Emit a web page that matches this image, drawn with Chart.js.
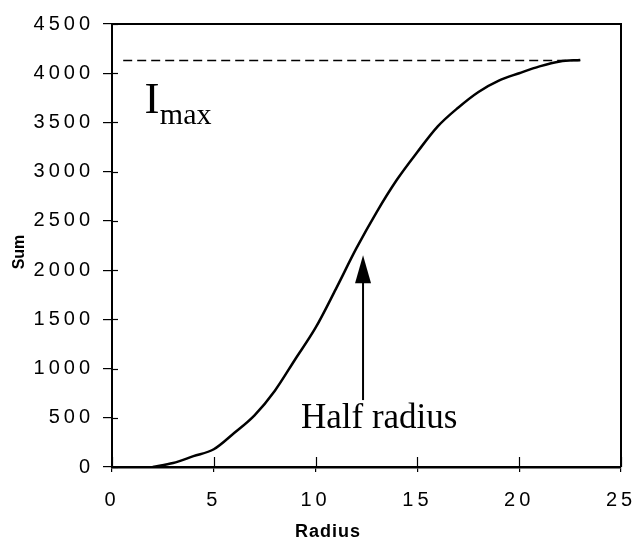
<!DOCTYPE html>
<html>
<head>
<meta charset="utf-8">
<script src="https://cdn.jsdelivr.net/npm/chart.js@4.4.1/dist/chart.umd.min.js"></script>
<style>
  html, body { margin: 0; padding: 0; background: #fff; }
  #wrap { width: 637px; height: 540px; position: relative; }
</style>
</head>
<body>
<div id="wrap"><canvas id="chart"></canvas></div>
<script>
// radius (pixels) and cumulative intensity sum
const radius = [2, 3, 4, 5, 6, 7, 8, 9, 10, 11, 12, 13, 14, 15, 16, 17, 18, 19, 20, 21, 22, 23];
const sums = [0, 40, 110, 180, 345, 525, 775, 1095, 1415, 1810, 2220, 2590, 2920, 3200, 3460, 3650, 3810, 3925, 4000, 4070, 4120, 4135];

// plateau (I max) line
const imaxLevel = 4130;
const imaxFrom = 0.55;
const imaxTo = 23.1;

// half radius arrow
const halfRadiusX = 12.33;
const arrowFrom = 680;
const arrowTo = 2150;

const xTicks = [0, 5, 10, 15, 20, 25];
const yTicks = [0, 500, 1000, 1500, 2000, 2500, 3000, 3500, 4000, 4500];

const curve = radius.map((r, i) => ({ x: r, y: sums[i] }));
const plateau = [{ x: imaxFrom, y: imaxLevel }, { x: imaxTo, y: imaxLevel }];

const extras = {
    id: 'extras',
    beforeDraw(chart) {
        chart.ctx.letterSpacing = '4px';
    },
    afterDraw(chart) {
        const ctx = chart.ctx;
        const { left, right, top, bottom } = chart.chartArea;
        const xs = chart.scales.x, ys = chart.scales.y;
        ctx.save();
        ctx.letterSpacing = '0px';
        ctx.strokeStyle = '#000';
        ctx.fillStyle = '#000';

        // frame top + right
        ctx.lineWidth = 2;
        ctx.beginPath();
        ctx.moveTo(left, top);
        ctx.lineTo(right, top);
        ctx.lineTo(right, bottom);
        ctx.stroke();

        // tick stubs inside the plot
        ctx.lineWidth = 1.2;
        xTicks.forEach(v => {
            const px = Math.round(xs.getPixelForValue(v)) + 0.5;
            ctx.beginPath(); ctx.moveTo(px, bottom); ctx.lineTo(px, bottom - 10); ctx.stroke();
        });
        yTicks.forEach(v => {
            const py = Math.round(ys.getPixelForValue(v)) + 0.5;
            ctx.beginPath(); ctx.moveTo(left, py); ctx.lineTo(left + 6, py); ctx.stroke();
        });

        // arrow
        const ax = xs.getPixelForValue(halfRadiusX);
        const ay0 = ys.getPixelForValue(arrowFrom);
        const ay1 = ys.getPixelForValue(arrowTo);
        ctx.lineWidth = 2;
        ctx.beginPath(); ctx.moveTo(ax, ay0); ctx.lineTo(ax, ay1 + 20); ctx.stroke();
        ctx.beginPath();
        ctx.moveTo(ax, ay1);
        ctx.lineTo(ax - 8, ay1 + 28);
        ctx.lineTo(ax + 8, ay1 + 28);
        ctx.closePath();
        ctx.fill();

        // annotations
        ctx.textAlign = 'left';
        ctx.textBaseline = 'alphabetic';
        ctx.font = '35px "Liberation Serif"';
        ctx.fillText('Half radius', xs.getPixelForValue(9.28), ys.getPixelForValue(400));
        ctx.font = '45px "Liberation Serif"';
        ctx.fillText('I', xs.getPixelForValue(1.6), ys.getPixelForValue(3600));
        ctx.font = '30px "Liberation Serif"';
        ctx.fillText('max', xs.getPixelForValue(2.35), ys.getPixelForValue(3480));

        // axis titles
        ctx.font = 'bold 18px "Liberation Sans"';
        ctx.letterSpacing = '1px';
        ctx.textAlign = 'center';
        ctx.fillText('Radius', 328, 537);
        ctx.letterSpacing = '0px';
        ctx.font = 'bold 16px "Liberation Sans"';
        ctx.translate(24, 252);
        ctx.rotate(-Math.PI / 2);
        ctx.fillText('Sum', 0, 0);
        ctx.restore();
    }
};

new Chart(document.getElementById('chart'), {
    type: 'line',
    data: {
        datasets: [
            {
                data: curve,
                borderColor: '#000',
                borderWidth: 2.5,
                pointRadius: 0,
                cubicInterpolationMode: 'monotone',
                fill: false
            },
            {
                data: plateau,
                borderColor: '#000',
                borderWidth: 1.5,
                borderDash: [9, 5],
                pointRadius: 0,
                fill: false
            }
        ]
    },
    options: {
        responsive: true,
        maintainAspectRatio: false,
        animation: false,
        events: [],
        layout: { padding: { top: 24, right: 16, left: 0, bottom: 0 } },
        plugins: { legend: { display: false }, tooltip: { enabled: false } },
        scales: {
            x: {
                type: 'linear',
                min: 0, max: 25,
                afterBuildTicks: s => { s.ticks = xTicks.map(v => ({ value: v })); },
                afterFit: s => { s.height = 73; s.paddingLeft = 0; s.paddingRight = 0; },
                ticks: {
                    color: '#000',
                    padding: 16,
                    callback: v => String(v),
                    font: { family: 'Liberation Sans', size: 20 }
                },
                grid: { drawOnChartArea: false, tickLength: 5, color: '#000', lineWidth: 1.2 },
                border: { color: '#000', width: 2.5 }
            },
            y: {
                min: 0, max: 4500,
                afterBuildTicks: s => { s.ticks = yTicks.map(v => ({ value: v })); },
                afterFit: s => { s.width = 112; s.paddingTop = 0; s.paddingBottom = 0; },
                ticks: {
                    color: '#000',
                    padding: 9,
                    callback: v => String(v),
                    font: { family: 'Liberation Sans', size: 20 }
                },
                grid: { drawOnChartArea: false, tickLength: 9, color: '#000', lineWidth: 1.2 },
                border: { color: '#000', width: 2 }
            }
        }
    },
    plugins: [extras]
});
</script>
</body>
</html>
